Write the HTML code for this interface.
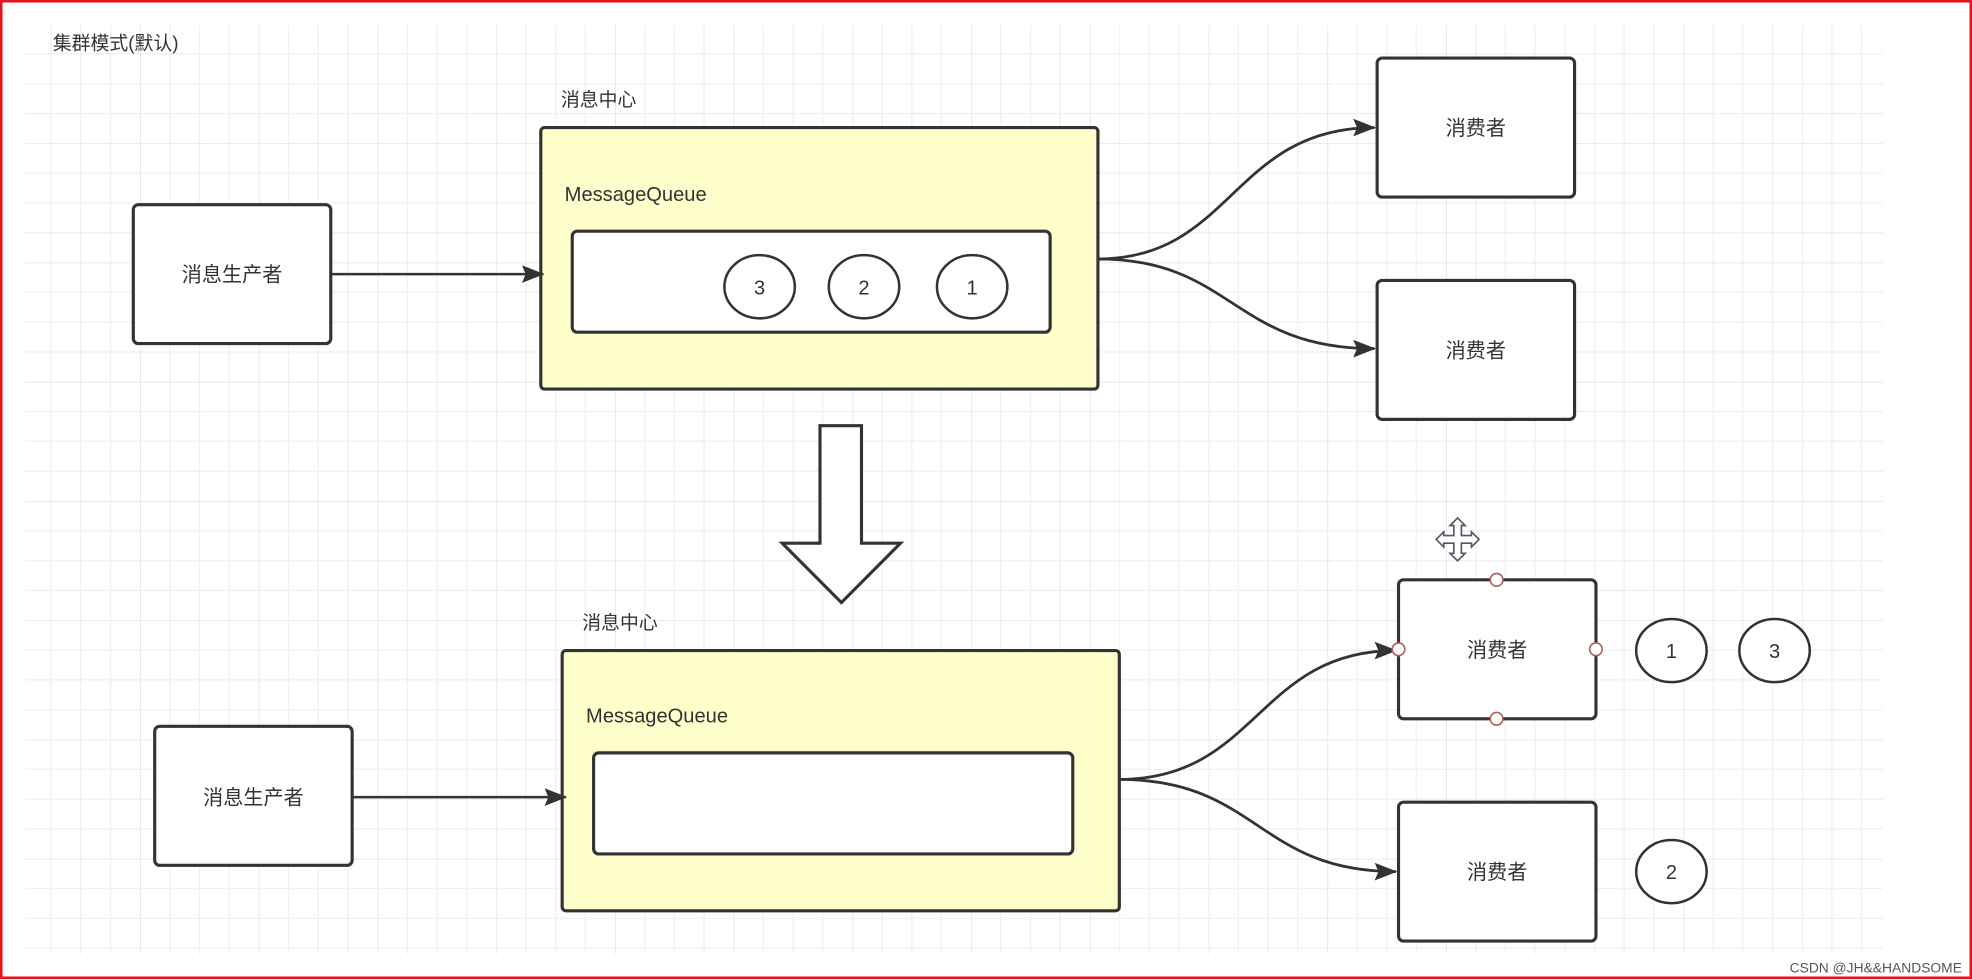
<!DOCTYPE html>
<html><head><meta charset="utf-8"><style>
html,body{margin:0;padding:0;background:#fff;width:1972px;height:979px;overflow:hidden}
svg{display:block}
text{font-family:"Liberation Sans","Noto Sans CJK SC",sans-serif;fill:#333}
</style></head><body>
<svg width="1972" height="979" viewBox="0 0 1568 775" preserveAspectRatio="none" xmlns="http://www.w3.org/2000/svg">
<defs>
<pattern id="g" x="17" y="19" width="94.4" height="94.4" patternUnits="userSpaceOnUse">
<path d="M23.6 0V94.4M47.2 0V94.4M70.8 0V94.4M0 23.6H94.4M0 47.2H94.4M0 70.8H94.4" stroke="#efefef" stroke-width="1" fill="none"/>
<path d="M0 0V94.4M0 0H94.4" stroke="#e2e2e2" stroke-width="1.2" fill="none"/>
</pattern>
<marker id="a" markerWidth="10" markerHeight="10" refX="9" refY="5" orient="auto" markerUnits="userSpaceOnUse" viewBox="0 0 10 10"><path d="M0 0L10 5L0 10L2 5Z" fill="#333"/></marker>
<marker id="b" markerWidth="18" markerHeight="14" refX="17" refY="7" orient="auto" markerUnits="userSpaceOnUse" viewBox="0 0 18 14"><path d="M0 0L18 7L0 14L3 7Z" fill="#333"/></marker>
</defs>
<rect x="0" y="0" width="1568" height="775" fill="#fff"/>
<rect x="20" y="20" width="1477" height="735" fill="url(#g)"/>
<rect x="1" y="1" width="1566" height="773" fill="none" stroke="#e8141c" stroke-width="2"/>
<text x="42" y="39" font-size="15">集群模式(默认)</text>

<!-- top -->
<text x="446" y="84" font-size="15">消息中心</text>
<rect x="430" y="101" width="443" height="207" rx="3" fill="#ffffcc" stroke="#333" stroke-width="2.5"/>
<text x="449" y="159" font-size="16">MessageQueue</text>
<rect x="455" y="183" width="380" height="80" rx="4" fill="#fff" stroke="#333" stroke-width="2.5"/>
<g fill="#fff" stroke="#333" stroke-width="2"><ellipse cx="604" cy="227" rx="28" ry="25"/><ellipse cx="687" cy="227" rx="28" ry="25"/><ellipse cx="773" cy="227" rx="28" ry="25"/></g>
<g font-size="16" text-anchor="middle"><text x="604" y="233">3</text><text x="687" y="233">2</text><text x="773" y="233">1</text></g>
<rect x="106" y="162" width="157" height="110" rx="4" fill="#fff" stroke="#333" stroke-width="2.5"/>
<text x="184.5" y="223" font-size="16" text-anchor="middle">消息生产者</text>
<path d="M263 217L432 217" stroke="#333" stroke-width="2" fill="none" marker-end="url(#b)"/>
<rect x="1095" y="46" width="157" height="110" rx="4" fill="#fff" stroke="#333" stroke-width="2.5"/>
<text x="1173.5" y="107" font-size="16" text-anchor="middle">消费者</text>
<rect x="1095" y="222" width="157" height="110" rx="4" fill="#fff" stroke="#333" stroke-width="2.5"/>
<text x="1173.5" y="283" font-size="16" text-anchor="middle">消费者</text>
<path d="M873 205C980 205 980 101 1093 101" stroke="#333" stroke-width="2.2" fill="none" marker-end="url(#b)"/>
<path d="M873 205C980 205 980 276 1093 276" stroke="#333" stroke-width="2.2" fill="none" marker-end="url(#b)"/>

<!-- down arrow -->
<path d="M652 337H685V430H716L669 477L622 430H652Z" fill="#fff" stroke="#333" stroke-width="2.5"/>

<!-- bottom -->
<text x="463" y="498" font-size="15">消息中心</text>
<rect x="447" y="515" width="443" height="206" rx="3" fill="#ffffcc" stroke="#333" stroke-width="2.5"/>
<text x="466" y="572" font-size="16">MessageQueue</text>
<rect x="472" y="596" width="381" height="80" rx="4" fill="#fff" stroke="#333" stroke-width="2.5"/>
<rect x="123" y="575" width="157" height="110" rx="4" fill="#fff" stroke="#333" stroke-width="2.5"/>
<text x="201.5" y="637" font-size="16" text-anchor="middle">消息生产者</text>
<path d="M280 631L450 631" stroke="#333" stroke-width="2" fill="none" marker-end="url(#b)"/>
<rect x="1112" y="459" width="157" height="110" rx="4" fill="#fff" stroke="#333" stroke-width="2.5"/>
<text x="1190.5" y="520" font-size="16" text-anchor="middle">消费者</text>
<rect x="1112" y="635" width="157" height="110" rx="4" fill="#fff" stroke="#333" stroke-width="2.5"/>
<text x="1190.5" y="696" font-size="16" text-anchor="middle">消费者</text>
<path d="M890 617C1000 617 1000 515 1110 515" stroke="#333" stroke-width="2.2" fill="none" marker-end="url(#b)"/>
<path d="M890 617C1000 617 1000 690 1110 690" stroke="#333" stroke-width="2.2" fill="none" marker-end="url(#b)"/>
<g fill="#fff" stroke="#b06060" stroke-width="1.3"><circle cx="1190" cy="459" r="5"/><circle cx="1112" cy="514" r="5"/><circle cx="1269" cy="514" r="5"/><circle cx="1190" cy="569" r="5"/></g>
<g fill="#fff" stroke="#333" stroke-width="2"><ellipse cx="1329" cy="515" rx="28" ry="25"/><ellipse cx="1411" cy="515" rx="28" ry="25"/><ellipse cx="1329" cy="690" rx="28" ry="25"/></g>
<g font-size="16" text-anchor="middle"><text x="1329" y="521">1</text><text x="1411" y="521">3</text><text x="1329" y="696">2</text></g>
<!-- move icon -->
<path d="M1159 410L1165 416H1162V424H1170V421L1176 427L1170 433V430H1162V438H1165L1159 444L1153 438H1156V430H1148V433L1142 427L1148 421V424H1156V416H1153Z" fill="#fff" stroke="#556" stroke-width="1.3"/>
<text x="1560" y="770" font-size="11" text-anchor="end" fill="#555" style="fill:#555">CSDN @JH&amp;&amp;HANDSOME</text>
</svg>
</body></html>
